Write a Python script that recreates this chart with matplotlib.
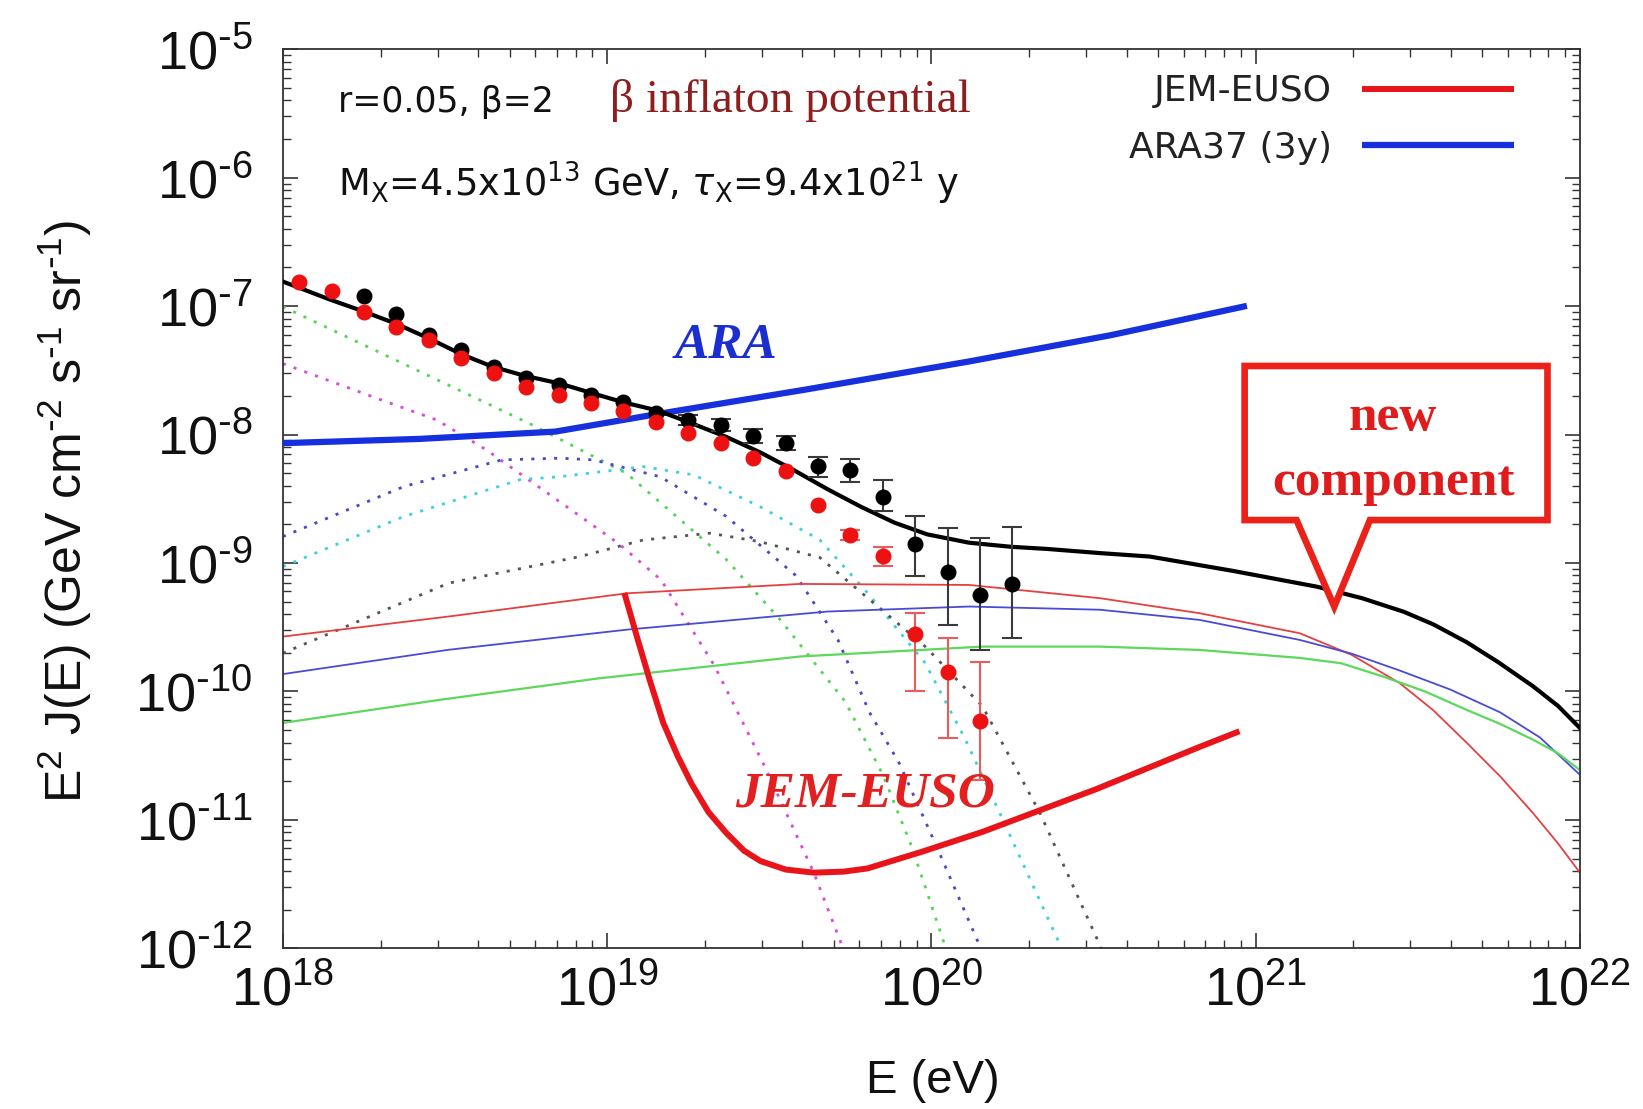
import numpy as np
import matplotlib.pyplot as plt
from matplotlib.patches import Polygon
from matplotlib.ticker import FixedLocator, LogLocator, NullFormatter, FuncFormatter

plt.rcParams.update({
    "font.family": "Liberation Sans",
    "mathtext.fontset": "dejavusans",
    "axes.linewidth": 1.3,
    "axes.edgecolor": "#333333",
})

# all curves are stored as log10(E / eV) and log10(E^2 J / GeV cm^-2 s^-1 sr^-1)

# total flux (black)
lgE_total = [18.000, 18.145, 18.246, 18.349, 18.450, 18.550, 18.646, 18.743, 18.853,
             18.950, 19.050, 19.157, 19.260, 19.367, 19.473, 19.577, 19.680, 19.784,
             19.887, 19.987, 20.116, 20.246, 20.359, 20.520, 20.674, 20.931, 21.188,
             21.328, 21.457, 21.548, 21.651, 21.748, 21.855, 21.933, 22.000]
lgF_total = [-6.809, -6.949, -7.039, -7.137, -7.251, -7.374, -7.471, -7.541, -7.602,
             -7.675, -7.749, -7.814, -7.912, -8.018, -8.140, -8.279, -8.426, -8.564,
             -8.687, -8.777, -8.842, -8.874, -8.891, -8.923, -8.950, -9.062, -9.184,
             -9.274, -9.380, -9.478, -9.617, -9.772, -9.959, -10.114, -10.285]

# ARA37 (3y) sensitivity
lgE_ara = [18.000, 18.420, 18.840, 19.170, 19.609, 20.116, 20.552, 20.973]
lgF_ara = [-8.067, -8.034, -7.977, -7.834, -7.651, -7.431, -7.227, -6.998]

# JEM-EUSO sensitivity
lgE_jem = [19.053, 19.092, 19.131, 19.173, 19.218, 19.260, 19.312, 19.367, 19.422,
           19.473, 19.551, 19.638, 19.729, 19.803, 19.971, 20.158, 20.510, 20.827, 20.950]
lgF_jem = [-9.233, -9.576, -9.910, -10.245, -10.506, -10.718, -10.938, -11.101, -11.240,
           -11.321, -11.387, -11.411, -11.403, -11.378, -11.248, -11.093, -10.759,
           -10.432, -10.310]

# new (super-heavy dark matter) component, thin solid lines
lgE_new_red = [18.000, 18.510, 19.061, 19.595, 20.116, 20.520, 20.827, 21.136, 21.296,
               21.444, 21.548, 21.651, 21.754, 21.855, 21.932, 22.000]
lgF_new_red = [-9.573, -9.417, -9.236, -9.163, -9.171, -9.274, -9.391, -9.547, -9.715,
               -9.935, -10.147, -10.400, -10.661, -10.946, -11.182, -11.411]
lgE_new_blue = [18.000, 18.510, 19.061, 19.680, 20.116, 20.520, 20.827, 21.136, 21.296,
                21.444, 21.599, 21.754, 21.877, 22.000]
lgF_new_blue = [-9.865, -9.676, -9.519, -9.378, -9.339, -9.364, -9.443, -9.599, -9.706,
                -9.837, -9.984, -10.163, -10.359, -10.649]
lgE_new_green = [18.000, 18.485, 18.978, 19.595, 20.158, 20.520, 20.827, 21.136, 21.263,
                 21.393, 21.522, 21.651, 21.754, 21.855, 21.932, 22.000]
lgF_new_green = [-10.245, -10.065, -9.897, -9.728, -9.651, -9.651, -9.677, -9.739, -9.780,
                 -9.884, -10.000, -10.144, -10.253, -10.375, -10.481, -10.612]

# astrophysical mass groups, dotted
lgE_green_dot = [18.000, 18.761, 19.060, 19.367, 19.535, 19.735, 19.851, 19.939, 20.039, 20.050]
lgF_green_dot = [-7.004, -7.915, -8.303, -8.972, -9.445, -10.082, -10.653, -11.207, -11.958, -12.05]
lgE_magenta_dot = [18.000, 18.304, 18.474, 18.628, 19.034, 19.166, 19.331, 19.486, 19.638,
                   19.721, 19.735]
lgF_magenta_dot = [-7.448, -7.731, -7.886, -8.120, -8.846, -9.131, -9.800, -10.585, -11.415,
                   -11.958, -12.05]
lgE_blue_dot = [18.000, 18.373, 18.675, 18.855, 18.957, 19.163, 19.367, 19.583, 19.712,
                19.809, 19.900, 20.016, 20.145, 20.160]
lgF_blue_dot = [-8.794, -8.405, -8.197, -8.184, -8.197, -8.328, -8.637, -9.100, -9.600,
                -10.163, -10.555, -11.207, -11.958, -12.05]
lgE_cyan_dot = [18.000, 18.373, 18.730, 18.855, 19.111, 19.267, 19.471, 19.656, 19.803,
                19.981, 20.100, 20.217, 20.394, 20.410]
lgF_cyan_dot = [-9.028, -8.638, -8.352, -8.328, -8.250, -8.314, -8.561, -8.820, -9.233,
                -9.780, -10.350, -10.980, -11.958, -12.05]
lgE_gray_dot = [18.000, 18.511, 18.916, 19.111, 19.317, 19.471, 19.656, 19.981, 20.158,
                20.335, 20.512, 20.530]
lgF_gray_dot = [-9.702, -9.157, -8.950, -8.821, -8.768, -8.834, -8.958, -9.651, -10.118,
                -10.948, -11.933, -12.05]

# Auger (red) and TA (black) spectra
lgE_red_pts = [18.05, 18.15, 18.25, 18.35, 18.45, 18.55, 18.65, 18.75, 18.85, 18.95, 19.05,
               19.15, 19.25, 19.35, 19.45, 19.55, 19.65, 19.75, 19.85, 19.95, 20.05, 20.15]
lgF_red_pts = [-6.814, -6.879, -7.042, -7.165, -7.263, -7.406, -7.523, -7.627, -7.692,
               -7.757, -7.814, -7.899, -7.985, -8.067, -8.184, -8.287, -8.548, -8.781,
               -8.948, -9.551, -9.845, -10.228]
lgE_red_err = [19.75, 19.85, 19.95, 20.05, 20.15]
lgF_red_hi = [-8.741, -8.874, -9.388, -9.584, -9.772]
lgF_red_lo = [-8.822, -9.021, -10.000, -10.359, -10.693]

lgE_blk_pts = [18.25, 18.35, 18.45, 18.55, 18.65, 18.75, 18.85, 18.95, 19.05, 19.15, 19.25,
               19.35, 19.45, 19.55, 19.65, 19.75, 19.85, 19.95, 20.05, 20.15, 20.25]
lgF_blk_pts = [-6.924, -7.061, -7.224, -7.341, -7.471, -7.561, -7.613, -7.690, -7.744,
               -7.834, -7.886, -7.925, -8.010, -8.067, -8.245, -8.276, -8.483, -8.850,
               -9.070, -9.250, -9.160]
lgE_blk_err = [19.25, 19.35, 19.45, 19.55, 19.65, 19.75, 19.85, 19.95, 20.05, 20.15, 20.25]
lgF_blk_hi = [-7.847, -7.879, -7.953, -8.010, -8.173, -8.189, -8.352, -8.634, -8.728,
              -8.806, -8.716]
lgF_blk_lo = [-7.928, -7.969, -8.067, -8.124, -8.328, -8.369, -8.597, -9.100, -9.486,
              -9.674, -9.584]

x_decades = [18, 19, 20, 21, 22]
y_decades = [-12, -11, -10, -9, -8, -7, -6, -5]


def pw(a):
    return 10.0 ** np.asarray(a, dtype=float)


def decade_label(v, pos):
    n = int(round(np.log10(v)))
    if n < 0:
        return r"$\mathregular{10^{\text{-}%d}}$" % -n
    return r"$\mathregular{10^{%d}}$" % n


def err_bars(ax, lgE, lgF, hi, lo, color):
    f = pw(lgF)
    yerr = [f - pw(lo), pw(hi) - f]
    ax.errorbar(pw(lgE), f, yerr=yerr, fmt="none", ecolor=color, elinewidth=1.5,
                capsize=7, capthick=1.5, zorder=4)


fig = plt.figure(figsize=(16.43, 11.09), dpi=100)
ax = fig.add_axes([0.1722, 0.1449, 0.7894, 0.8107])
ax.set_xscale("log")
ax.set_yscale("log")
ax.set_xlim(1e18, 1e22)
ax.set_ylim(1e-12, 1e-5)

dot = (0, (1.1, 3.0))
for lgE, lgF, c in [(lgE_green_dot, lgF_green_dot, "#55d455"),
                    (lgE_magenta_dot, lgF_magenta_dot, "#d94ad9"),
                    (lgE_blue_dot, lgF_blue_dot, "#4848c8"),
                    (lgE_cyan_dot, lgF_cyan_dot, "#3fd0e0"),
                    (lgE_gray_dot, lgF_gray_dot, "#555555")]:
    ax.plot(pw(lgE), pw(lgF), color=c, lw=2.0, ls=dot, zorder=2)

ax.plot(pw(lgE_new_red), pw(lgF_new_red), color="#e44040", lw=1.3, zorder=2)
ax.plot(pw(lgE_new_blue), pw(lgF_new_blue), color="#4a4ad8", lw=1.3, zorder=2)
ax.plot(pw(lgE_new_green), pw(lgF_new_green), color="#5cd85c", lw=1.6, zorder=2)

ara_line, = ax.plot(pw(lgE_ara), pw(lgF_ara), color="#1530dc", lw=4.5, zorder=3,
                    solid_capstyle="butt")
jem_line, = ax.plot(pw(lgE_jem), pw(lgF_jem), color="#e8141a", lw=4.3, zorder=3,
                    solid_capstyle="butt", solid_joinstyle="round")
ax.plot(pw(lgE_total), pw(lgF_total), color="black", lw=3.0, zorder=3,
        solid_joinstyle="round")

err_bars(ax, lgE_blk_err, lgF_blk_pts[10:], lgF_blk_hi, lgF_blk_lo, "#3a3a3a")
err_bars(ax, lgE_red_err, lgF_red_pts[17:], lgF_red_hi, lgF_red_lo, "#ec5a5a")
ax.plot(pw(lgE_blk_pts), pw(lgF_blk_pts), "o", color="black", ms=10.5, zorder=4)
ax.plot(pw(lgE_red_pts), pw(lgF_red_pts), "o", color="#ee1111", ms=10.5, zorder=5)

# axes, ticks
ax.xaxis.set_major_locator(FixedLocator(pw(x_decades)))
ax.yaxis.set_major_locator(FixedLocator(pw(y_decades)))
ax.xaxis.set_minor_locator(LogLocator(base=10, subs=np.arange(2, 10), numticks=60))
ax.yaxis.set_minor_locator(LogLocator(base=10, subs=np.arange(2, 10), numticks=60))
ax.xaxis.set_minor_formatter(NullFormatter())
ax.yaxis.set_minor_formatter(NullFormatter())
ax.xaxis.set_major_formatter(FuncFormatter(decade_label))
ax.yaxis.set_major_formatter(FuncFormatter(decade_label))
ax.tick_params(which="both", direction="in", top=True, right=True, color="#333333")
ax.tick_params(which="major", length=11, width=1.2, labelsize=39, labelcolor="#111111")
ax.tick_params(which="minor", length=5.5, width=1.0)
ax.tick_params(axis="y", pad=22)
ax.tick_params(axis="x", pad=12)

fig.text(0.0396, 0.539,
         r"E$^\mathregular{2}$ J(E) (GeV cm$^\mathregular{\text{-}2}$ s$^\mathregular{\text{-}1}$ "
         r"sr$^\mathregular{\text{-}1}$)",
         rotation=90, ha="center", va="center", fontsize=36, color="#111111")
fig.text(0.5676, 0.025, "E (eV)", ha="center", va="center", fontsize=34, color="#111111")

# annotations
ax.text(0.0428, 0.9306, "r=0.05, β=2", transform=ax.transAxes, ha="left", va="baseline",
        fontsize=25, family="DejaVu Sans", color="#111111")
ax.text(0.252, 0.9306, "β inflaton potential", transform=ax.transAxes, ha="left",
        va="baseline", fontsize=34, family="Liberation Serif", color="#8e1e1e")
ax.text(0.0428, 0.836,
        r"M$_\mathregular{X}$=4.5x10$^\mathregular{13}$ GeV, $\tau_\mathregular{X}$=9.4x10$^\mathregular{21}$ y",
        transform=ax.transAxes, ha="left", va="baseline", fontsize=26.5,
        family="DejaVu Sans", color="#111111")
ax.text(0.3417, 0.6562, "ARA", transform=ax.transAxes, ha="center", va="baseline",
        fontsize=37, family="Liberation Serif", style="italic", weight="bold",
        color="#1b2fd0", zorder=6)
ax.text(0.4491, 0.1573, "JEM-EUSO", transform=ax.transAxes, ha="center", va="baseline",
        fontsize=37, family="Liberation Serif", style="italic", weight="bold",
        color="#e32020", zorder=6)

callout = Polygon([(0.7415, 0.4763), (0.7415, 0.6477), (0.975, 0.6477), (0.975, 0.4763),
                   (0.8381, 0.4763), (0.8106, 0.380), (0.7815, 0.4763)],
                  closed=True, transform=ax.transAxes, facecolor="white",
                  edgecolor="#ea2219", lw=4.8, joinstyle="miter", zorder=7)
ax.add_patch(callout)
ax.text(0.856, 0.5765, "new", transform=ax.transAxes, ha="center", va="baseline",
        fontsize=37, family="Liberation Serif", weight="bold", color="#e01b1b", zorder=8)
ax.text(0.856, 0.5042, "component", transform=ax.transAxes, ha="center", va="baseline",
        fontsize=37, family="Liberation Serif", weight="bold", color="#e01b1b", zorder=8)

leg = ax.legend([jem_line, ara_line], ["JEM-EUSO", "ARA37 (3y)"], loc="upper right",
                bbox_to_anchor=(0.9491, 0.972), frameon=False, markerfirst=False,
                borderpad=0, borderaxespad=0, handlelength=4.2, handletextpad=0.85,
                labelspacing=0.62, prop={"family": "DejaVu Sans", "size": 26})
for t in leg.get_texts():
    t.set_color("#222222")

fig.savefig("out.png", dpi=100)
